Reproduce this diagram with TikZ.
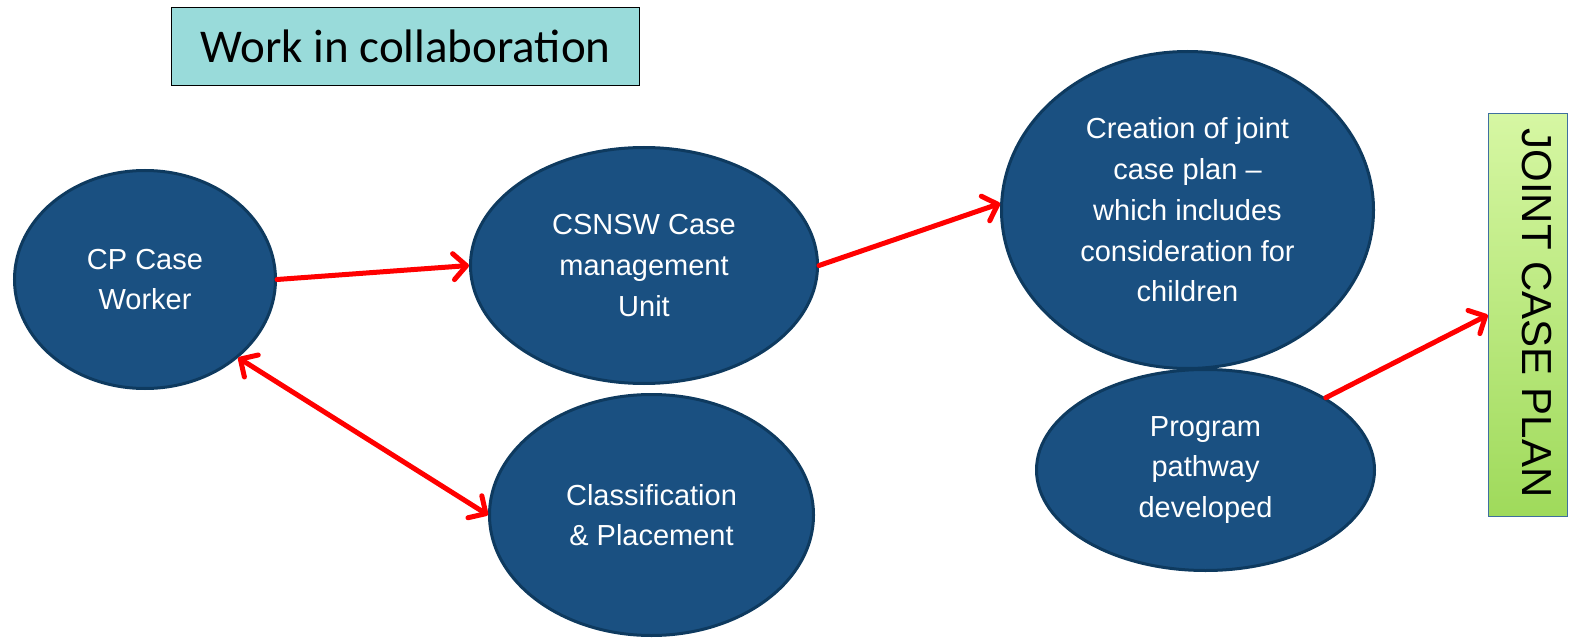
\documentclass[tikz,border=0pt]{standalone}
\usepackage{fontspec}
\setmainfont{Liberation Sans}
\newfontfamily\calibri{Carlito}
\usetikzlibrary{arrows.meta,shapes.geometric}
\definecolor{ellfill}{HTML}{1A5081}
\definecolor{elldraw}{HTML}{0E3A5F}
\definecolor{titlefill}{HTML}{99DBDA}
\definecolor{jtop}{HTML}{D6F7A3}
\definecolor{jbot}{HTML}{9FDA5B}
\definecolor{jdraw}{HTML}{3F6F9F}
\definecolor{arrred}{HTML}{FF0000}
\tikzset{
  barb/.tip={Straight Barb[length=13pt,width=26pt,round]},
  blob/.style={ellipse, fill=ellfill, draw=elldraw, line width=3pt, inner sep=0pt,
    text=white, align=center, font=\fontsize{29}{40.7}\selectfont},
  link/.style={draw=arrred, line width=5pt, line cap=round},
}
\begin{document}
\begin{tikzpicture}[x=1pt,y=-1pt]
\useasboundingbox (0,0) rectangle (1574,639);
% title
\node[draw=black, line width=1pt, fill=titlefill, minimum width=468pt, minimum height=78pt,
  inner sep=0pt, font=\calibri\fontsize{47}{50}\selectfont, text height=33pt, text depth=0pt]
  (title) at (405.5,46.5) {Work in collaboration\hspace{12pt}};
% ellipses
\node[blob, minimum width=261pt, minimum height=218pt] (cp) at (145,279.5) {CP Case\\Worker};
\node[blob, minimum width=347pt, minimum height=236pt] (csnsw) at (644,265.5) {CSNSW Case\\management\\Unit};
\node[blob, minimum width=324pt, minimum height=241pt] (class) at (651.5,515) {Classification\\\& Placement};
\node[blob, minimum width=372pt, minimum height=317pt] (creation) at (1187.5,210) {Creation of joint\\case plan --\\which includes\\consideration for\\children};
\node[blob, minimum width=338pt, minimum height=201pt] (program) at (1205.5,470) {Program\\pathway\\developed};
% joint case plan
\node[draw=jdraw, line width=1.5pt, top color=jtop, bottom color=jbot, minimum width=79pt,
  minimum height=403pt, inner sep=0pt] (joint) at (1528,315) {};
\node[rotate=-90, anchor=base, inner sep=0pt, font=\fontsize{42}{42}\selectfont] (jtext) at (1522,313) {JOINT CASE PLAN};
% connectors
\draw[link, -barb] (cp.east) -- (csnsw.west);
\draw[link, -barb] (csnsw.east) -- (creation.178.8);
\draw[link, barb-barb] (cp.-40) -- (class.west);
\draw[link, -barb] (program.31) -- (joint.west);
\end{tikzpicture}
\end{document}
